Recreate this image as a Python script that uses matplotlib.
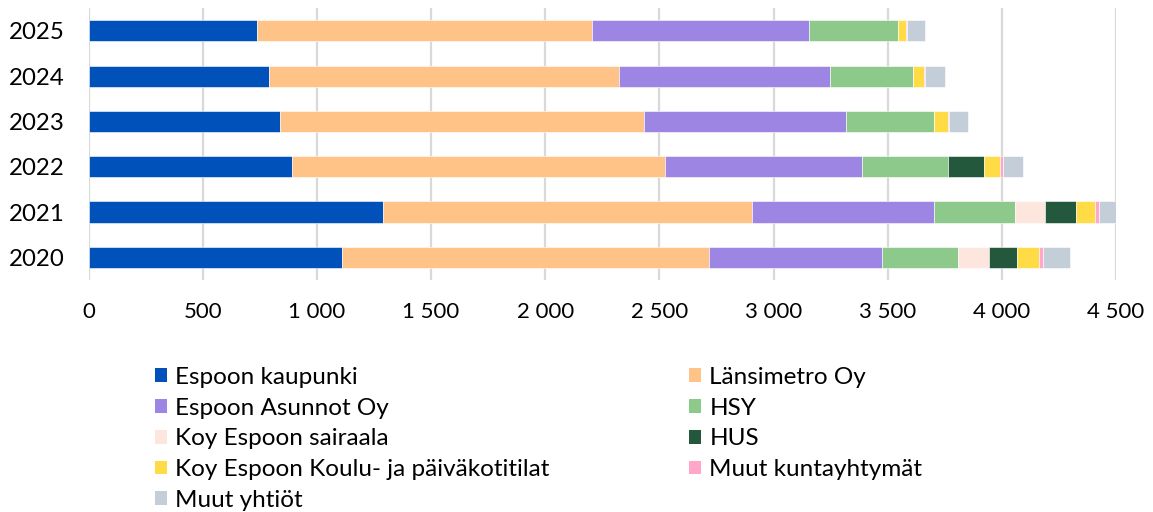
import numpy as np
import matplotlib.pyplot as plt
from matplotlib.patches import Patch

plt.rcParams['font.family'] = ['Lato', 'DejaVu Sans']

years = ['2020', '2021', '2022', '2023', '2024', '2025']
series = ['Espoon kaupunki', 'Länsimetro Oy', 'Espoon Asunnot Oy', 'HSY',
          'Koy Espoon sairaala', 'HUS', 'Koy Espoon Koulu- ja päiväkotitilat',
          'Muut kuntayhtymät', 'Muut yhtiöt']
colors = ['#0051BA', '#FFC387', '#9D86E3', '#8CC98A', '#FCE6DD', '#24583D',
          '#FFDB45', '#FFA6C9', '#C4CED8']

espoo = [1110, 1288, 891, 839, 790, 738]
lansimetro = [1608, 1616, 1634, 1594, 1535, 1467]
asunnot = [757, 799, 863, 883, 924, 952]
hsy = [333, 355, 376, 387, 362, 388]
sairaala = [137, 130, 0, 0, 0, 0]
hus = [123, 136, 157, 0, 0, 0]
koulu = [95, 84, 70, 61, 48, 34]
kuntayht = [17, 18, 14, 6, 5, 6]
yhtiot = [117, 95, 86, 83, 88, 79]

data = [espoo, lansimetro, asunnot, hsy, sairaala, hus, koulu, kuntayht, yhtiot]

fig = plt.figure(figsize=(11.53, 5.12), dpi=100)
ax = fig.add_axes([0.0768, 0.453, 0.968 - 0.0768, 0.984 - 0.453])

y = np.arange(len(years))
left = np.zeros(len(years))
for vals, c, name in zip(data, colors, series):
    vals = np.array(vals, dtype=float)
    ax.barh(y, vals, left=left, height=0.47, color=c, label=name,
            edgecolor='white', linewidth=0.4, zorder=3)
    left += vals

ax.set_xlim(0, 4500)
ax.set_ylim(-0.5, len(years) - 0.5)
ax.set_yticks(y)
ax.set_yticklabels(years)
xt = np.arange(0, 4501, 500)
ax.set_xticks(xt)
ax.set_xticklabels([f'{v:,}'.replace(',', ' ') for v in xt])
ax.tick_params(axis='both', length=0, colors='#000000')
ax.tick_params(axis='x', labelsize=16, pad=16)
ax.tick_params(axis='y', labelsize=17.3, pad=17)
ax.grid(axis='x', color='#D9D9D9', linewidth=1.6, zorder=0)
for s in ax.spines.values():
    s.set_visible(False)

# legend is read row by row in the original -> reorder for column filling
order = [0, 2, 4, 6, 8, 1, 3, 5, 7]
handles = [Patch(facecolor=colors[i]) for i in order]
labels = [series[i] for i in order]
fig.legend(handles, labels, ncol=2, loc='upper left',
           bbox_to_anchor=(0.124, 0.307), frameon=False, fontsize=17.5,
           handlelength=0.5, handleheight=0.5, handletextpad=0.33,
           labelspacing=0.40, columnspacing=5.74, borderpad=0)

fig.savefig('out.png', dpi=100)
